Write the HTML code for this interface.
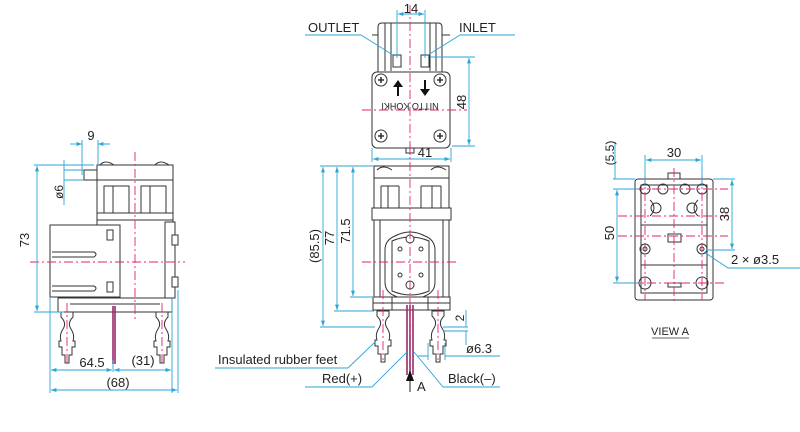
<!DOCTYPE html>
<html><head><meta charset="utf-8"><style>
html,body{margin:0;padding:0;background:#fff;width:800px;height:432px;overflow:hidden}
svg{display:block}
text{font-family:"Liberation Sans",sans-serif;fill:#222}
.b{stroke:#333;fill:none;stroke-width:1}
.bf{stroke:#333;fill:#fff;stroke-width:1}
.c{stroke:#e0207a;fill:none;stroke-width:0.9;stroke-dasharray:9 3 2 3}
.d{stroke:#2aa6d8;fill:none;stroke-width:0.9}
.w{stroke:#9b2a6a;stroke-width:1.6}
</style></head><body>
<svg width="800" height="432" viewBox="0 0 800 432">
<defs>
<marker id="a" viewBox="0 0 8 6" refX="8" refY="3" markerWidth="6" markerHeight="4.5" orient="auto-start-reverse"><path d="M0,0L8,3L0,6z" fill="#2aa6d8"/></marker>
<g id="foot">
<path class="bf" d="M-6,0 h12 v5 q-6,6 -2,12 q4,6 2,12 h2 v6 h-3 v8 h-3 v8 h-4 v-8 h-3 v-8 h-3 v-6 h2 q-2,-6 2,-12 q4,-6 -2,-12z"/>
</g>
<g id="screw"><circle r="6" class="bf"/><path d="M-3,0h6M0,-3v6" stroke="#333" stroke-width="1.6"/></g>
</defs>

<!-- ===== LEFT SIDE VIEW ===== -->
<g>
<rect class="bf" x="97" y="165" width="76" height="55"/>
<path class="b" d="M97,180h76 M97,213h76"/>
<rect class="b" x="104" y="186" width="25" height="27"/><rect class="b" x="141" y="186" width="25" height="27"/>
<path class="b" d="M113,186v27 M150,186v27"/>
<path class="b" d="M100,165q5,-6 14,0 M155,165q5,-6 14,0"/>
<rect class="bf" x="84" y="170" width="13" height="10"/>
<rect class="bf" x="97" y="220" width="76" height="78"/>
<rect class="bf" x="50" y="225" width="70" height="72"/>
<path class="b" d="M52,252h42q4,2 0,5h-42 M52,286h42q4,2 0,5h-42"/>
<rect class="bf" x="165" y="222" width="10" height="76"/>
<rect class="bf" x="172" y="235" width="6" height="10"/><rect class="bf" x="172" y="277" width="6" height="10"/>
<rect class="bf" x="107" y="230" width="6" height="10"/><rect class="bf" x="107" y="282" width="6" height="10"/>
<rect class="bf" x="58" y="298" width="114" height="14"/>
<path class="b" d="M70,304h90"/>
<use href="#foot" x="67" y="312"/><use href="#foot" x="162" y="312"/>
<path class="w" d="M113,306v58 M115,306v58"/>
<path class="c" d="M135,152v170 M30,262h155 M67,303v60 M162,303v60"/>
<path class="d" d="M34,165h60 M34,312h30" /><path class="d" d="M37,166v145" marker-start="url(#a)" marker-end="url(#a)"/>
<text x="29" y="240" font-size="13" transform="rotate(-90 29 240)" text-anchor="middle">73</text>
<path class="d" d="M82,140v35 M98,140v25 M76,144h6 M104,144h6" /><path class="d" d="M70,144h12" marker-end="url(#a)"/><path class="d" d="M110,144h-12" marker-end="url(#a)"/>
<text x="91" y="140" font-size="13" text-anchor="middle">9</text>
<path class="d" d="M64,160v45 M64,170h20 M64,180h20"/>
<text x="63" y="192" font-size="12" transform="rotate(-90 63 192)" text-anchor="middle">ø6</text>
<path class="d" d="M50,298v95 M172,298v95 M178,290v103 M113,360v12"/>
<path class="d" d="M51,370h61" marker-start="url(#a)" marker-end="url(#a)"/>
<path class="d" d="M114,370h57" marker-start="url(#a)" marker-end="url(#a)"/>
<path class="d" d="M51,390h126" marker-start="url(#a)" marker-end="url(#a)"/>
<text x="92" y="367" font-size="13" text-anchor="middle">64.5</text>
<text x="143" y="365" font-size="13" text-anchor="middle">(31)</text>
<text x="118" y="387" font-size="13" text-anchor="middle">(68)</text>
</g>

<!-- ===== TOP VIEW ===== -->
<g>
<path class="bf" d="M378,72v-45q0,-4 4,-4h56q4,0 4,4v45"/>
<path class="b" d="M385,23v48 M391,23v48 M430,23v48 M436,23v48 M372,35h6 M442,35h8"/>
<rect class="bf" x="393" y="55" width="8" height="12"/><rect class="bf" x="421" y="55" width="8" height="12"/>
<rect class="bf" x="372" y="72" width="78" height="76" rx="5"/>
<use href="#screw" x="381" y="80"/><use href="#screw" x="440" y="80"/>
<use href="#screw" x="381" y="136"/><use href="#screw" x="440" y="136"/>
<rect class="bf" x="406" y="148" width="8" height="5"/>
<path d="M397,96v-9h-4l5,-7l5,7h-4v9z" fill="#111"/>
<path d="M424,80v9h-4l5,7l5,-7h-4v-9z" fill="#111"/>
<text x="410" y="97" font-size="9" text-anchor="middle" transform="rotate(180 410 100)">NITTO KOHKI</text>
<path class="c" d="M410,5v150 M362,110h105"/>
<path class="d" d="M397,10v48 M425,10v48"/><path class="d" d="M398,14h26" marker-start="url(#a)" marker-end="url(#a)"/>
<text x="411" y="13" font-size="13" text-anchor="middle">14</text>
<path class="d" d="M305,35h56l32,20 M515,35h-55l-32,20"/>
<text x="308" y="32" font-size="13">OUTLET</text>
<text x="459" y="32" font-size="13">INLET</text>
<path class="d" d="M430,57h45 M452,146h23"/><path class="d" d="M469,58v87" marker-start="url(#a)" marker-end="url(#a)"/>
<text x="466" y="102" font-size="13" transform="rotate(-90 466 102)" text-anchor="middle">48</text>
<path class="d" d="M372,148v14 M451,148v14"/><path class="d" d="M373,159h77" marker-start="url(#a)" marker-end="url(#a)"/>
<text x="425" y="157" font-size="13" text-anchor="middle">41</text>
</g>

<!-- ===== FRONT VIEW ===== -->
<g>
<rect class="bf" x="374" y="166" width="75" height="44"/>
<path class="b" d="M374,178h75 M381,186v24 M388,186v24 M399,186v24 M421,186v24 M432,186v24 M441,186v24 M381,186h18 M421,186h20"/>
<path class="b" d="M377,170q6,-6 15,0 M431,170q6,-6 15,0"/>
<rect class="bf" x="372" y="208" width="79" height="12"/>
<rect class="bf" x="374" y="220" width="75" height="77"/>
<path class="b" d="M380,220v77 M443,220v77"/>
<path class="bf" d="M395,236q15,-8 30,0q10,4 10,14v32q0,10 -10,14q-15,8 -30,0q-10,-4 -10,-14v-32q0,-10 10,-14z"/>
<path class="b" d="M392,241q18,-8 37,0v50q-18,8 -37,0z"/>
<circle cx="410" cy="239" r="4" class="bf"/><circle cx="410" cy="285" r="4" class="bf"/>
<circle cx="400" cy="249" r="2" class="b"/><circle cx="421" cy="249" r="2" class="b"/>
<circle cx="400" cy="275" r="2" class="b"/><circle cx="421" cy="275" r="2" class="b"/>
<rect class="bf" x="373" y="297" width="77" height="13"/>
<path class="b" d="M373,303h77 M392,297v13 M428,297v13"/>
<use href="#foot" x="383" y="311"/><use href="#foot" x="438" y="311"/>
<path class="w" d="M407,305v70 M410,305v70 M413,305v70"/>
<path class="c" d="M410,145v190 M362,262h95 M383,290v70 M438,290v70"/>
<path class="d" d="M320,166h54 M334,311h40 M350,297h24 M320,327h55"/>
<path class="d" d="M323,167v159" marker-start="url(#a)" marker-end="url(#a)"/>
<path class="d" d="M337,167v143" marker-start="url(#a)" marker-end="url(#a)"/>
<path class="d" d="M353,167v129" marker-start="url(#a)" marker-end="url(#a)"/>
<text x="319" y="246" font-size="13" transform="rotate(-90 319 246)" text-anchor="middle">(85.5)</text>
<text x="334" y="238" font-size="13" transform="rotate(-90 334 238)" text-anchor="middle">77</text>
<text x="350" y="231" font-size="13" transform="rotate(-90 350 231)" text-anchor="middle">71.5</text>
<path class="d" d="M443,327h25 M443,331h25 M466,310v17 M466,331v14"/>
<text x="464" y="318" font-size="12" transform="rotate(-90 464 318)" text-anchor="middle">2</text>
<path class="d" d="M428,343v17 M445,343v17 M428,356h-10 M500,356h-55"/>
<text x="466" y="353" font-size="13">ø6.3</text>
<path class="d" d="M215,368h133l27,-26"/>
<text x="218" y="364" font-size="13">Insulated rubber feet</text>
<path class="d" d="M305,387h67l35,-35"/>
<text x="322" y="383" font-size="13">Red(+)</text>
<path class="d" d="M500,387h-57l-29,-35"/>
<text x="448" y="383" font-size="13">Black(–)</text>
<path d="M410,392v-20" stroke="#222" stroke-width="1"/><path d="M406,381l4,-11l4,11z" fill="#111"/>
<text x="417" y="391" font-size="13">A</text>
</g>

<!-- ===== VIEW A ===== -->
<g>
<rect class="bf" x="635" y="179" width="78" height="121" rx="3"/>
<path class="b" d="M641,185h66v108h-66z M650,200q8,8 0,16 M698,200q-8,8 0,16 M641,225h66 M641,265h66"/>
<circle cx="645" cy="189" r="5" class="b"/><circle cx="702" cy="189" r="5" class="b"/>
<circle cx="663" cy="189" r="5" class="b"/><circle cx="685" cy="189" r="5" class="b"/>
<circle cx="656" cy="208" r="5" class="b"/><circle cx="692" cy="208" r="5" class="b"/>
<circle cx="645" cy="249" r="5" class="b"/><circle cx="702" cy="249" r="5" class="b"/>
<circle cx="645" cy="249" r="2" class="b"/><circle cx="702" cy="249" r="2" class="b"/>
<circle cx="645" cy="283" r="6" class="b"/><circle cx="702" cy="283" r="6" class="b"/>
<rect class="bf" x="668" y="173" width="12" height="6"/>
<rect class="bf" x="668" y="234" width="13" height="8"/>
<rect class="bf" x="668" y="283" width="13" height="4"/>
<path class="c" d="M674,168v135 M645,175v125 M702,175v125 M618,189h110 M618,216h110 M618,236h110 M630,283h95"/>
<path class="d" d="M645,155v30 M702,155v30"/><path class="d" d="M646,160h55" marker-start="url(#a)" marker-end="url(#a)"/>
<text x="674" y="157" font-size="13" text-anchor="middle">30</text>
<path class="d" d="M613,179h22 M613,189h25 M613,283h25 M615,142v37"/>
<path class="d" d="M617,190v92" marker-start="url(#a)" marker-end="url(#a)"/>
<text x="614" y="153" font-size="12" transform="rotate(-90 614 153)" text-anchor="middle">(5.5)</text>
<text x="614" y="233" font-size="13" transform="rotate(-90 614 233)" text-anchor="middle">50</text>
<path class="d" d="M713,179h22 M706,250h29"/><path class="d" d="M732,180v69" marker-start="url(#a)" marker-end="url(#a)"/>
<text x="729" y="214" font-size="13" transform="rotate(-90 729 214)" text-anchor="middle">38</text>
<path class="d" d="M704,252l24,16h72"/>
<text x="731" y="264" font-size="13">2 × ø3.5</text>
<text x="670" y="335" font-size="11" text-anchor="middle">VIEW A</text>
<path d="M652,338h37" stroke="#333" stroke-width="0.8"/>
</g>
</svg>
</body></html>
